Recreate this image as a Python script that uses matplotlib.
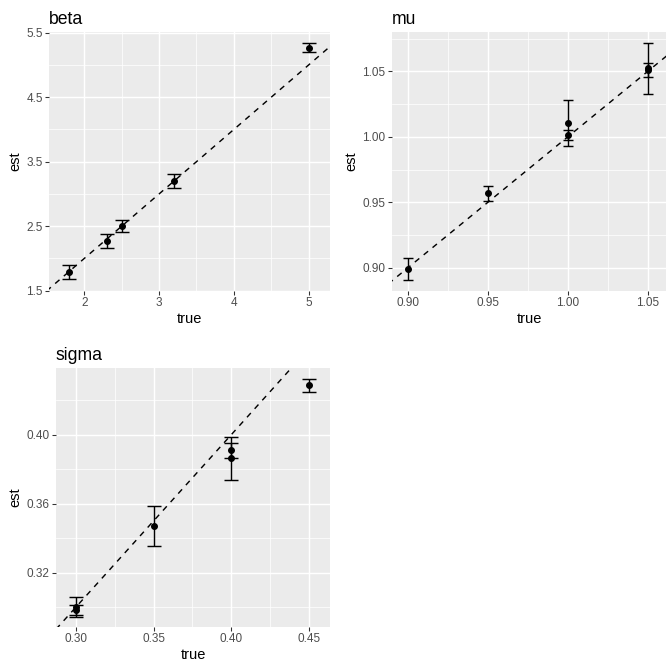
import numpy as np
import matplotlib
matplotlib.use("Agg")
import matplotlib.pyplot as plt
from matplotlib.ticker import FixedLocator

# estimates, one panel per parameter
beta_true = [1.8, 2.3, 2.5, 3.2, 5.0]
beta_est = [1.79, 2.27, 2.50, 3.20, 5.27]
beta_err = [0.11, 0.11, 0.095, 0.105, 0.075]

mu_true = [0.90, 0.95, 1.00, 1.00, 1.05, 1.05]
mu_est = [0.8990, 0.9568, 1.0107, 1.0015, 1.0523, 1.0508]
mu_err = [0.0084, 0.0060, 0.0174, 0.0039, 0.0196, 0.0053]

sigma_true = [0.30, 0.30, 0.35, 0.40, 0.40, 0.45]
sigma_est = [0.2999, 0.2984, 0.3469, 0.3910, 0.3864, 0.4288]
sigma_err = [0.0057, 0.0030, 0.0115, 0.0042, 0.0125, 0.0038]

GREY_BG = "#EBEBEB"
TICK_COL = "#4D4D4D"

plt.rcParams["font.family"] = ["Liberation Sans", "DejaVu Sans"]

fig = plt.figure(figsize=(7, 7), dpi=96)


def panel(rect, x, y, err, title, xlim, ylim, xmaj, xmin, ymaj, ymin, xlab, ylab, capsize):
    ax = fig.add_axes(rect)
    ax.set_facecolor(GREY_BG)
    for s in ax.spines.values():
        s.set_visible(False)
    ax.set_xlim(xlim)
    ax.set_ylim(ylim)
    ax.xaxis.set_major_locator(FixedLocator(xmaj))
    ax.yaxis.set_major_locator(FixedLocator(ymaj))
    ax.xaxis.set_minor_locator(FixedLocator(xmin))
    ax.yaxis.set_minor_locator(FixedLocator(ymin))
    ax.set_xticklabels(xlab)
    ax.set_yticklabels(ylab)
    ax.grid(which="major", color="white", lw=1.07)
    ax.grid(which="minor", color="white", lw=0.53)
    ax.set_axisbelow(True)
    ax.tick_params(which="major", length=2.75, width=0.8, color="#333333",
                   labelsize=8.8, labelcolor=TICK_COL, pad=2)
    ax.tick_params(which="minor", length=0)
    # reference line y = x
    lo, hi = min(xlim[0], ylim[0]), max(xlim[1], ylim[1])
    ax.plot([lo, hi], [lo, hi], ls=(0, (4, 4)), color="black", lw=1.07)
    ax.errorbar(x, y, yerr=err, fmt="none", ecolor="black", elinewidth=1.07,
                capsize=capsize, capthick=1.07)
    ax.plot(x, y, "o", color="black", ms=4.2)
    ax.set_xlabel("true", fontsize=11, labelpad=2)
    ax.set_ylabel("est", fontsize=11, labelpad=3)
    ax.set_title(title, loc="left", fontsize=13.2, pad=6)
    return ax


def frac(l, t, r, b):
    return [l / 672, 1 - b / 672, (r - l) / 672, (b - t) / 672]


panel(frac(49.3, 31.7, 330, 291), beta_true, beta_est, beta_err, "beta",
      (1.532, 5.285), (1.495, 5.515),
      [2, 3, 4, 5], [1.5, 2.5, 3.5, 4.5],
      [1.5, 2.5, 3.5, 4.5, 5.5], [2.0, 3.0, 4.0, 5.0],
      ["2", "3", "4", "5"], ["1.5", "2.5", "3.5", "4.5", "5.5"], 5.4)

panel(frac(392, 31.7, 666, 291), mu_true, mu_est, mu_err, "mu",
      (0.890, 1.0615), (0.8822, 1.0804),
      [0.90, 0.95, 1.00, 1.05], [0.925, 0.975, 1.025],
      [0.90, 0.95, 1.00, 1.05], [0.875, 0.925, 0.975, 1.025, 1.075],
      ["0.90", "0.95", "1.00", "1.05"], ["0.90", "0.95", "1.00", "1.05"], 3.8)

panel(frac(56, 367.5, 330, 627), sigma_true, sigma_est, sigma_err, "sigma",
      (0.2871, 0.4637), (0.2884, 0.4391),
      [0.30, 0.35, 0.40, 0.45], [0.325, 0.375, 0.425],
      [0.32, 0.36, 0.40], [0.30, 0.34, 0.38, 0.42],
      ["0.30", "0.35", "0.40", "0.45"], ["0.32", "0.36", "0.40"], 5.6)

fig.savefig("out.png", dpi=96)
